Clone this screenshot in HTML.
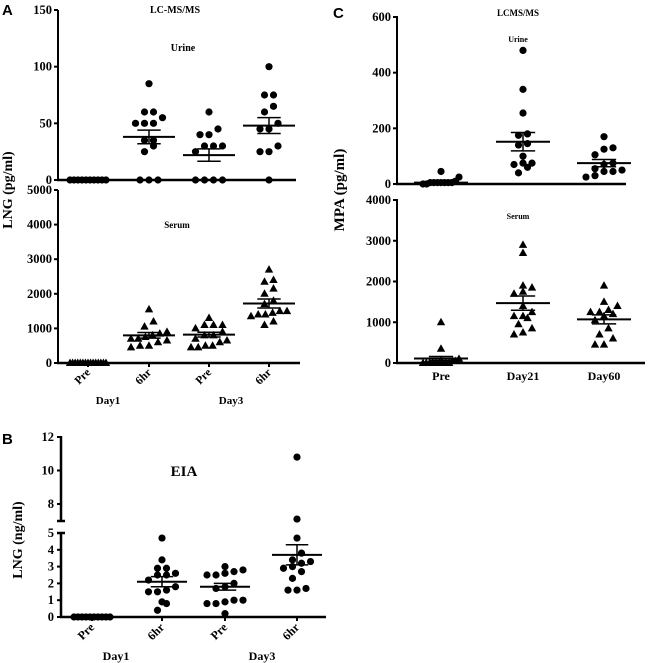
<!DOCTYPE html>
<html><head><meta charset="utf-8"><style>
body{margin:0;background:#fff}
svg{display:block}
text{font-family:"Liberation Serif",serif;font-weight:bold;fill:#000}
</style></head><body>
<svg id="c" width="649" height="663" viewBox="0 0 649 663" xmlns="http://www.w3.org/2000/svg"></svg>
<script>
// ---- data ----
const catsA = ["Pre","6hr","Pre","6hr"];
const catsC = ["Pre","Day21","Day60"];
const aUrine = [
 [0,0,0,0,0,0,0,0,0,0],
 [85,60,60,55,50,50,50,35,35,30,25,0,0,0],
 [60,45,40,40,30,30,30,25,0,0,0,0],
 [100,75,75,65,60,50,45,45,30,25,25,0]];
const aUrineMean=[0,38,22,48], aUrineSem=[0,6,5.5,7];
const aSerum = [
 [0,0,0,0,0,0,0,0,0,0,0,0,0,0,0],
 [1550,1200,1050,900,850,800,750,700,700,650,600,500,500,450],
 [1300,1100,1100,1100,1000,900,800,800,700,650,600,500,500,450,450],
 [2700,2400,2350,2150,2000,1800,1700,1500,1500,1450,1400,1400,1350,1200,1100]];
const aSerumMean=[0,800,820,1720], aSerumSem=[0,80,70,130];
const bEia = [
 [0,0,0,0,0,0,0,0,0,0],
 [4.7,3.4,2.9,2.9,2.6,2.5,2.5,2.2,1.8,1.6,1.5,1.5,0.9,0.8,0.4],
 [3.0,2.8,2.7,2.6,2.5,2.5,2.0,1.8,1.7,1.0,1.0,0.9,0.8,0.8,0.2],
 [10.8,7.1,4.7,3.8,3.4,3.3,3.2,3.0,2.9,2.7,2.3,1.7,1.6,1.6]];
const bMean=[0,2.1,1.8,3.7], bSem=[0,0.3,0.2,0.6];
const cUrine = [
 [45,25,10,5,5,5,5,5,5,5,0,0],
 [480,340,255,180,175,145,140,100,75,75,70,60,40],
 [170,130,125,105,75,70,55,50,45,45,30,25]];
const cUrineMean=[5,152,75], cUrineSem=[3,33,13];
const cSerum = [
 [1000,350,100,50,50,0,0,0,0,0,0,0,0,0],
 [2900,2700,1900,1850,1750,1700,1400,1250,1150,1150,1100,950,850,750,700],
 [1900,1500,1400,1300,1250,1250,1200,1150,1050,850,700,600,450,450]];
const cSerumMean=[110,1470,1070], cSerumSem=[50,175,110];
const ticksAU=[0,50,100,150], ticksAS=[0,1000,2000,3000,4000,5000];
const ticksBLow=[0,1,2,3,4,5], ticksBHigh=[8,10,12];
const ticksCU=[0,200,400,600], ticksCS=[0,1000,2000,3000,4000];

const NS="http://www.w3.org/2000/svg", svg=document.getElementById('c');
function mk(tag,at,name){const e=document.createElementNS(NS,tag);for(const k in at)e.setAttribute(k,at[k]);


svg.appendChild(e);return e;}
function txt(s,x,y,size,anchor,name,rot){const e=mk('text',{x:x,y:y,'font-size':size,'text-anchor':anchor||'middle'},name);
if(rot!==undefined)e.setAttribute('transform','rotate('+rot+' '+x+' '+y+')');e.textContent=s;return e;}
function line(x1,y1,x2,y2,w,name){return mk('line',{x1:x1,y1:y1,x2:x2,y2:y2,stroke:'#000','stroke-width':w||2},name);}
function lin(d0,d1,p0,p1){return v=>p0+(v-d0)*(p1-p0)/(d1-d0);}

function swarm(vals,cx,ys){ // bin by pixel row, spread each row horizontally
 const pts=vals.map(v=>ys(v)).sort((a,b)=>b-a);const rows=[];
 pts.forEach(y=>{const r=rows.find(r=>Math.abs(r.y0-y)<7);if(r)r.ys.push(y);else rows.push({y0:y,ys:[y]});});
 const out=[];
 rows.forEach(r=>{const n=r.ys.length;const sp=n>1?Math.min(9,36/(n-1)):0;
  r.ys.forEach((y,i)=>out.push([cx+(i-(n-1)/2)*sp,y]));});
 return out;}
function drawGroup(vals,cx,ys,shape,name){
 swarm(vals,cx,ys).forEach(([x,y])=>{
  if(shape=='tri')mk('polygon',{points:`${x},${y-4.5} ${x-4.2},${y+3} ${x+4.2},${y+3}`,fill:'#000'},name+'-point');
  else mk('circle',{cx:x,cy:y,r:3.6,fill:'#000'},name+'-point');});}
function meanBar(m,s,cx,ys,hw,name){
 line(cx-hw,ys(m),cx+hw,ys(m),2,name+'-mean');
 line(cx,ys(m-s),cx,ys(m+s),1.5,name+'-sem');
 line(cx-hw*0.45,ys(m+s),cx+hw*0.45,ys(m+s),1.5,name+'-sem-cap');
 line(cx-hw*0.45,ys(m-s),cx+hw*0.45,ys(m-s),1.5,name+'-sem-cap');}
function yAxis(x,ticks,ys,y0,y1,name){line(x,y0,x,y1,2,name);
 ticks.forEach(t=>{line(x-4,ys(t),x,ys(t),2,name+'-tick');txt(String(t),x-6,ys(t)+4,12.5,'end',name+'-tick-label');});}

// ---- Panel A ----
const xA=[88,149,209,269];
const yAU=lin(0,150,180,10), yAS=lin(0,5000,363,190);
txt('A',2,15,15,'start','panel-a-label').setAttribute('style','font-family:"Liberation Sans",sans-serif');
txt('LC-MS/MS',175,13,10,'middle','panel-a-title');
txt('Urine',183,51,10,'middle','urine-label');
txt('Serum',177,228,9,'middle','serum-label');
txt('LNG (pg/ml)',12,190,14,'middle','y-axis-title',-90);
yAxis(58,ticksAU,yAU,10,181,'urine-y-axis'); line(57,180,296,180,2.5,'urine-x-axis');
yAxis(58,ticksAS,yAS,190,364,'serum-y-axis'); line(57,363,300,363,2.5,'serum-x-axis');
catsA.forEach((c,i)=>{
 drawGroup(aUrine[i],xA[i],yAU,'circle','urine-'+i);
 if(i>0)meanBar(aUrineMean[i],aUrineSem[i],xA[i],yAU,26,'urine-'+i);
 drawGroup(aSerum[i],xA[i],yAS,'tri','serum-'+i);
 if(i>0)meanBar(aSerumMean[i],aSerumSem[i],xA[i],yAS,26,'serum-'+i);
 line(xA[i],363,xA[i],367,2,'x-tick');
 txt(c,xA[i]+3,373,11.5,'end','x-tick-label',-45);
});
txt('Day1',108,404,11,'middle','day1-label');
txt('Day3',231,404,11,'middle','day3-label');

// ---- Panel B ----
const xB=[92,162,225,297];
const yBL=lin(0,5,617,533), yBH=lin(8,12,504,437);
const yB=v=>v>5?yBH(v):yBL(v);
txt('B',2,444,15,'start','panel-b-label').setAttribute('style','font-family:"Liberation Sans",sans-serif');
txt('EIA',184,476,15,'middle','panel-b-title');
txt('LNG (ng/ml)',22,540,14,'middle','b-y-axis-title',-90);
line(61,436,61,521,2.5,'b-y-axis-upper'); line(57,521,65,521,2.5,'b-break');
line(61,533,61,618,2.5,'b-y-axis-lower'); line(57,533,65,533,2.5,'b-break');
ticksBHigh.forEach(t=>{line(57,yBH(t),61,yBH(t),2,'b-tick');txt(String(t),54,yBH(t)+4,12.5,'end','b-tick-label');});
ticksBLow.forEach(t=>{line(57,yBL(t),61,yBL(t),2,'b-tick');txt(String(t),54,yBL(t)+4,12.5,'end','b-tick-label');});
line(60,617,326,617,2.5,'b-x-axis');
catsA.forEach((c,i)=>{
 drawGroup(bEia[i],xB[i],yB,'circle','eia-'+i);
 if(i>0)meanBar(bMean[i],bSem[i],xB[i],yB,25,'eia-'+i);
 line(xB[i],617,xB[i],621,2,'b-x-tick');
 txt(c,xB[i]+3,628,12,'end','b-x-tick-label',-45);
});
txt('Day1',116,660,12,'middle','b-day1-label');
txt('Day3',262,660,12,'middle','b-day3-label');

// ---- Panel C ----
const xC=[441,523,604];
const yCU=lin(0,600,184,17), yCS=lin(0,4000,363,200);
txt('C',333,18,15,'start','panel-c-label').setAttribute('style','font-family:"Liberation Sans",sans-serif');
txt('LCMS/MS',518,16,9,'middle','panel-c-title');
txt('Urine',518,42,8,'middle','c-urine-label');
txt('Serum',518,219,8,'middle','c-serum-label');
txt('MPA (pg/ml)',344,190,15,'middle','c-y-axis-title',-90);
yAxis(397,ticksCU,yCU,16,185,'c-urine-y-axis'); line(396,184,626,184,2.5,'c-urine-x-axis');
yAxis(397,ticksCS,yCS,199,364,'c-serum-y-axis'); line(396,363,645,363,2.5,'c-serum-x-axis');
catsC.forEach((c,i)=>{
 drawGroup(cUrine[i],xC[i],yCU,'circle','c-urine-'+i);
 meanBar(cUrineMean[i],cUrineSem[i],xC[i],yCU,27,'c-urine-'+i);
 drawGroup(cSerum[i],xC[i],yCS,'tri','c-serum-'+i);
 meanBar(cSerumMean[i],cSerumSem[i],xC[i],yCS,27,'c-serum-'+i);
 txt(c,xC[i],380,12,'middle','c-x-tick-label');
});
</script>
</body></html>
